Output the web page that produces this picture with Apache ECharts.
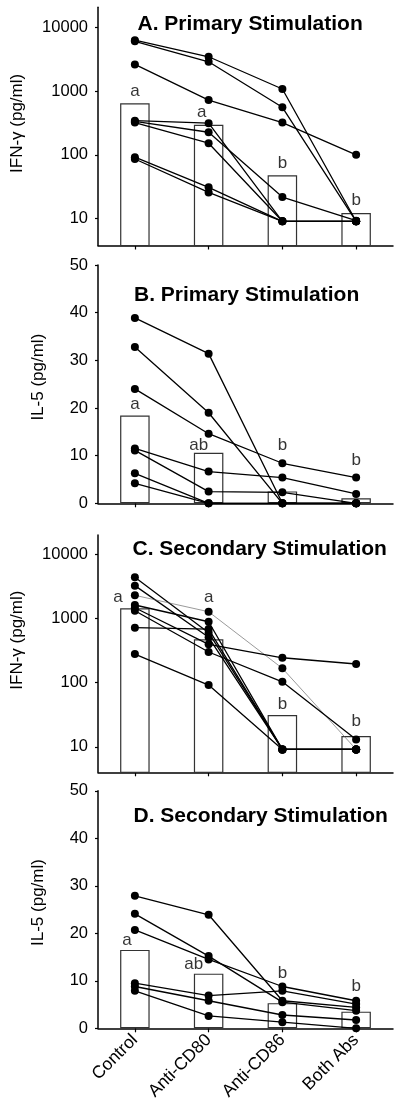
<!DOCTYPE html>
<html><head><meta charset="utf-8">
<script src="https://cdn.jsdelivr.net/npm/echarts@6/dist/echarts.min.js"></script>
<style>html,body{margin:0;padding:0;background:#fff}#c{width:400px;height:1107px}</style>
</head><body><div id="c"></div>
<script>
const categories = ['Control', 'Anti-CD80', 'Anti-CD86', 'Both Abs'];

// Panel A: IFN-gamma, primary stimulation
const aTitle = 'A. Primary Stimulation';
const aBars = [643, 295, 48, 12.3];
const aDonors = [
  [6270, 3440, 1075, 9.1],
  [6000, 2870, 556, 9.1],
  [2610, 722, 320, 100],
  [343, 313, 9.1, 9.1],
  [334, 226, 21.8, 9.3],
  [320, 152, 9.1, 9.1],
  [92, 31, 9.1, 9.1],
  [86, 25.8, 9.1, 9.1]
];
const aLetters = ['a', 'a', 'b', 'b'];
const aLetterAt = [1000, 457, 74, 19.1];

// Panel B: IL-5, primary stimulation
const bTitle = 'B. Primary Stimulation';
const bBars = [18.4, 10.6, 2.5, 1.05];
const bDonors = [
  [38.9, 31.4, 0, 0],
  [32.8, 19.0, 0, 0],
  [24.0, 14.6, 8.4, 5.4],
  [11.5, 6.65, 5.4, 1.96],
  [11.1, 2.45, 2.3, 0],
  [6.3, 0, 0, 0],
  [4.2, 0, 0, 0]
];
const bLetters = ['a', 'ab', 'b', 'b'];
const bLetterAt = [20.8, 12.25, 12.25, 9.1];

// Panel C: IFN-gamma, secondary stimulation
const cTitle = 'C. Secondary Stimulation';
const cBars = [1439, 473, 31.2, 14.7];
const cDonors = [
  [4385, 600, 9.1, 9.1],
  [3250, 508, 9.1, 9.1],
  [2296, 1273, 167, 9.1],
  [1621, 889, 9.1, 9.1],
  [1469, 395, 244, 195],
  [1321, 300, 103, 13],
  [718, 684, 9.1, 9.1],
  [279, 91.6, 9.1, 9.1]
];
const cLetters = ['a', 'a', 'b', 'b'];
const cLetterAt = [2140, 2170, 45.8, 24.5];

// Panel D: IL-5, secondary stimulation
const dTitle = 'D. Secondary Stimulation';
const dBars = [16.5, 11.5, 5.3, 3.5];
const dDonors = [
  [27.9, 23.9, 5.8, 4.4],
  [24.1, 15.2, 5.5, 3.7],
  [20.7, 14.5, 8.8, 5.8],
  [9.5, 6.9, 7.9, 5.1],
  [8.8, 5.8, 2.8, 1.75],
  [7.9, 2.6, 1.3, 0]
];
const dLetters = ['a', 'ab', 'b', 'b'];
const dLetterAt = [18.6, 13.5, 11.6, 8.76];

const yNameIFN = 'IFN-\u03b3 (pg/ml)';
const yNameIL5 = 'IL-5 (pg/ml)';
const logTicks = [10, 100, 1000, 10000];
const linTicks = [0, 10, 20, 30, 40, 50];

// ---------- build ----------
const FONT = '"Liberation Sans", Arial, Helvetica, sans-serif';
const panels = [
  {title: aTitle, bars: aBars, donors: aDonors, letters: aLetters, letterAt: aLetterAt, log: true, name: yNameIFN,
   grid: {top: 7.3, height: 238.2}, range: [3.8, 20500], titlePos: [137.5, 13.7], letterDx: [0, -7, 0, 0], nameGap: 72, namePad: 6, thin: -1},
  {title: bTitle, bars: bBars, donors: bDonors, letters: bLetters, letterAt: bLetterAt, log: false, name: yNameIL5,
   grid: {top: 265, height: 238.3}, range: [0, 50], titlePos: [134, 284.5], letterDx: [0, -10, 0, 0], nameGap: 51, namePad: 14, thin: -1},
  {title: cTitle, bars: cBars, donors: cDonors, letters: cLetters, letterAt: cLetterAt, log: true, name: yNameIFN,
   grid: {top: 535, height: 237.3}, range: [4.0, 20000], titlePos: [132.5, 538.5], letterDx: [-17, 0, 0, 0], nameGap: 72, namePad: 27, thin: 2},
  {title: dTitle, bars: dBars, donors: dDonors, letters: dLetters, letterAt: dLetterAt, log: false, name: yNameIL5,
   grid: {top: 790.8, height: 237.5}, range: [0, 50], titlePos: [133.5, 805.5], letterDx: [-8, -15, 0, 0], nameGap: 51, namePad: 14, thin: -1}
];

const option = {
  animation: false,
  backgroundColor: '#fff',
  textStyle: {fontFamily: FONT},
  title: [], grid: [], xAxis: [], yAxis: [], series: []
};

panels.forEach((p, i) => {
  option.title.push({
    text: p.title, left: p.titlePos[0], top: p.titlePos[1], padding: 0,
    textStyle: {fontFamily: FONT, fontSize: 21, fontWeight: 'bold', color: '#000'}
  });
  option.grid.push({left: 98, width: 295, top: p.grid.top, height: p.grid.height});
  const last = i === panels.length - 1;
  option.xAxis.push({
    type: 'category', gridIndex: i, data: categories, boundaryGap: true,
    axisLine: {lineStyle: {color: '#000', width: 1.5}},
    axisTick: {show: true, alignWithLabel: true, length: 4, lineStyle: {color: '#000', width: 1.2}},
    axisLabel: {show: last, interval: 0, rotate: 45, margin: 9, fontSize: 17.5, color: '#000', fontFamily: FONT},
    splitLine: {show: false}
  });
  const ticks = p.log ? logTicks : linTicks;
  const y = {
    gridIndex: i, min: p.range[0], max: p.range[1],
    name: p.name, nameLocation: 'middle', nameGap: p.nameGap,
    nameTextStyle: {fontSize: 17, color: '#000', fontFamily: FONT, padding: [0, 0, 0, p.namePad]},
    axisLine: {show: true, lineStyle: {color: '#000', width: 1.5}},
    axisTick: {show: true, length: 3, lineStyle: {color: '#000', width: 1.2}},
    axisLabel: {fontSize: 16.5, color: '#000', margin: 10, fontFamily: FONT,
      showMinLabel: !p.log, showMaxLabel: !p.log,
      formatter: v => (ticks.some(t => Math.abs(t - v) < 1e-6 * Math.max(1, t)) ? String(Math.round(v)) : '')},
    splitLine: {show: false}
  };
  if (p.log) { y.type = 'log'; y.logBase = 10; }
  else { y.type = 'value'; y.interval = 10; }
  option.yAxis.push(y);

  option.series.push({
    type: 'bar', xAxisIndex: i, yAxisIndex: i, data: p.bars, barWidth: '40%', z: 2, clip: true,
    itemStyle: {color: '#fff', borderColor: '#333', borderWidth: 1.2}, silent: true
  });
  p.donors.forEach((d, k) => {
    const thin = k === p.thin;
    option.series.push({
      type: 'line', xAxisIndex: i, yAxisIndex: i, data: d, z: 3,
      symbol: 'circle', symbolSize: 8, showSymbol: true,
      itemStyle: {color: '#000'},
      lineStyle: {color: thin ? '#555' : '#000', width: thin ? 0.6 : 1.3}
    });
  });
  option.series.push({
    type: 'scatter', xAxisIndex: i, yAxisIndex: i, z: 4,
    symbol: 'circle', symbolSize: 1, itemStyle: {color: 'rgba(0,0,0,0)'},
    data: p.letters.map((t, k) => ({value: [categories[k], p.letterAt[k]],
      label: {show: true, position: 'inside', formatter: t, offset: [p.letterDx[k], 0],
        color: '#000', fontSize: 17, fontFamily: FONT}}))
  });
});

const chart = echarts.init(document.getElementById('c'), null, {renderer: 'canvas'});
chart.setOption(option);
</script>
</body></html>
